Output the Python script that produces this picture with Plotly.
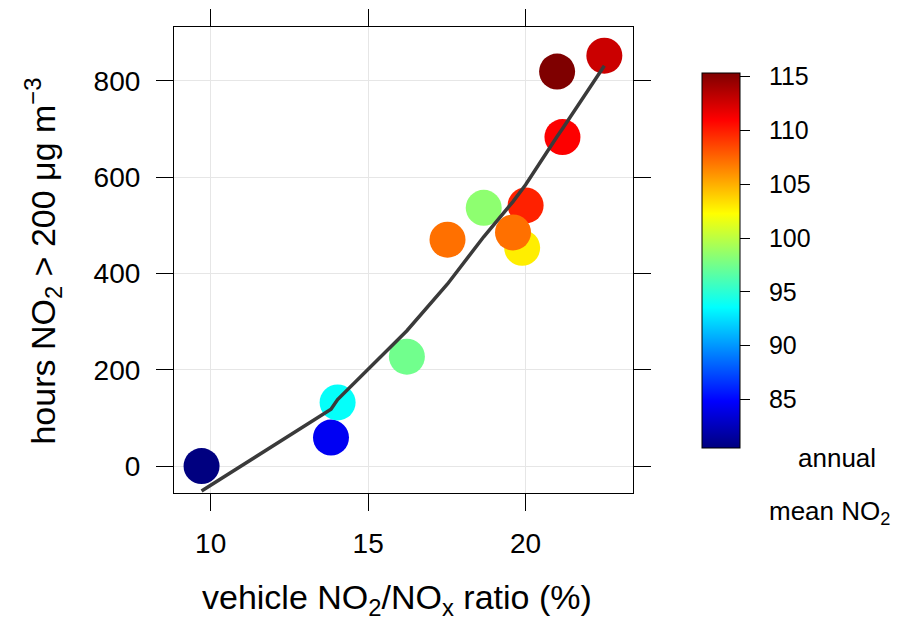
import plotly.graph_objects as go

# data
ratio = [9.71, 13.82, 14.03, 16.23, 17.52, 18.67, 19.89, 20.0, 19.6, 21.17, 21.0, 22.5]
hours = [0, 59, 132, 227, 470, 536, 453, 541, 485, 683, 819, 852]
mean_no2 = [80.5, 84.4, 93.7, 97.4, 107.1, 98.4, 102.8, 109.8, 107.1, 111.0, 115.3, 112.7]

fit_x = [9.71, 13.82, 14.03, 16.23, 17.52, 18.67, 19.6, 19.89, 20.0, 21.0, 21.17, 22.5]
fit_y = [-52, 118, 138, 281, 378, 476, 549, 573, 584, 684, 700, 831]

cbar_ticks = [85, 90, 95, 100, 105, 110, 115]
x_ticks = [10, 15, 20]
y_ticks = [0, 200, 400, 600, 800]

FONT = "Liberation Sans, Arial, sans-serif"

jet = [[0, "#00007F"], [0.125, "#0000FF"], [0.25, "#007FFF"], [0.375, "#00FFFF"],
       [0.5, "#7FFF7F"], [0.625, "#FFFF00"], [0.75, "#FF7F00"], [0.875, "#FF0000"],
       [1, "#7F0000"]]

fig = go.Figure()
fig.add_trace(go.Scatter(
    x=ratio, y=hours, mode="markers",
    marker=dict(size=36, color=mean_no2, colorscale=jet, cmin=80.45, cmax=115.3,
                line=dict(width=0),
                colorbar=dict(
                    x=1.1497, xanchor="left", xpad=0, ypad=0,
                    y=0.498, yanchor="middle",
                    thickness=38, thicknessmode="pixels",
                    len=375, lenmode="pixels",
                    outlinewidth=1, outlinecolor="black",
                    ticks="outside", ticklen=10, tickwidth=1, tickcolor="black",
                    tickvals=cbar_ticks,
                    ticktext=["\u00a0\u00a0" + str(v) for v in cbar_ticks],
                    tickfont=dict(size=25, family=FONT, color="black"),
                )),
    showlegend=False, hoverinfo="skip"))
fig.add_trace(go.Scatter(
    x=fit_x, y=fit_y, mode="lines",
    line=dict(color="#3a3a3a", width=3.5),
    showlegend=False, hoverinfo="skip"))

axis_common = dict(
    showline=True, linecolor="black", linewidth=1.2, mirror="ticks",
    ticks="outside", ticklen=17, tickwidth=1.2, tickcolor="black",
    showgrid=True, gridcolor="#e6e6e6", gridwidth=1.2, zeroline=False,
    tickfont=dict(size=28, family=FONT, color="black"),
)

fig.update_layout(
    width=900, height=614,
    margin=dict(l=166, r=275, t=19, b=129, autoexpand=False),
    paper_bgcolor="white", plot_bgcolor="white",
    font=dict(family=FONT, color="black"),
    xaxis=dict(range=[8.835, 23.41], tickvals=x_ticks, ticklabelstandoff=8, **axis_common),
    yaxis=dict(range=[-56, 911.5], tickvals=y_ticks, ticklabelstandoff=10, **axis_common),
    annotations=[
        dict(text="vehicle NO<sub>2</sub>/NO<sub>x</sub> ratio (%)", x=0.485, y=-0.228,
             xref="paper", yref="paper", xanchor="center", yanchor="middle",
             showarrow=False, font=dict(size=34, family=FONT)),
        dict(text="hours NO<sub>2</sub> > 200 μg m<sup>−3</sup>", x=-0.285, y=0.497,
             xref="paper", yref="paper", xanchor="center", yanchor="middle",
             textangle=-90, showarrow=False, font=dict(size=34, family=FONT)),
        dict(text="annual", x=1.4438, y=0.0751, xref="paper", yref="paper",
             xanchor="center", yanchor="middle", showarrow=False,
             font=dict(size=26, family=FONT)),
        dict(text="mean NO<sub>2</sub>", x=1.429, y=-0.0429, xref="paper", yref="paper",
             xanchor="center", yanchor="middle", showarrow=False,
             font=dict(size=26, family=FONT)),
    ],
)

fig.write_html("out.html")
